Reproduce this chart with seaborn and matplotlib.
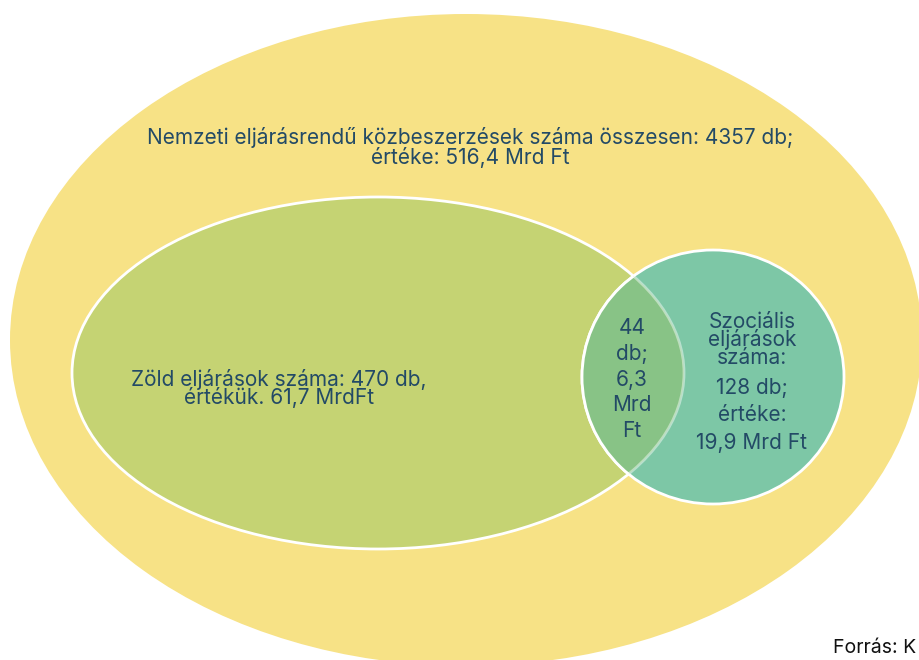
import matplotlib
matplotlib.use("Agg")
import matplotlib.pyplot as plt
from matplotlib.patches import Ellipse
import seaborn as sns

# ---- data ----
set_names = ["Nemzeti", "Zöld", "Szociális"]
counts = [4357, 470, 128]          # db
values = ["516,4", "61,7", "19,9"]  # Mrd Ft
overlap_count = 44
overlap_value = "6,3"

title_lines = [f"Nemzeti eljárásrendű közbeszerzések száma összesen: {counts[0]} db;",
               f"értéke: {values[0]} Mrd Ft"]
green_lines = [f"Zöld eljárások száma: {counts[1]} db,",
               f"értékük. {values[1]} MrdFt"]
teal_lines = ["Szociális", "eljárások", "száma:", f"{counts[2]} db;", "értéke:",
              f"{values[2]} Mrd Ft"]
overlap_lines = [str(overlap_count), "db;", overlap_value, "Mrd", "Ft"]
source = "Forrás: K"

sns.set_theme(style="white")
plt.rcParams['font.family'] = ['Inter', 'DejaVu Sans']

YELLOW = "#F7E286"
GREEN = "#C5D373"
TEAL = "#7DC7A6"
MIX = "#88C386"
TXT = "#234A66"
FS = 15

fig = plt.figure(figsize=(9.2, 6.6), dpi=100)
ax = fig.add_axes([0, 0, 1, 1])
ax.set_xlim(0, 920)
ax.set_ylim(660, 0)
ax.axis("off")

big = Ellipse((466, 340), 912, 652, facecolor=YELLOW, edgecolor="none", zorder=1)
ax.add_patch(big)
green = Ellipse((378, 373), 612, 352, facecolor=GREEN, edgecolor="white", lw=2, zorder=2)
ax.add_patch(green)
teal = Ellipse((713, 377), 262, 254, facecolor=TEAL, edgecolor="white", lw=2, zorder=3)
ax.add_patch(teal)
mix = Ellipse((713, 377), 262, 254, facecolor=MIX, edgecolor="white", lw=2, zorder=4)
ax.add_patch(mix)
mix.set_clip_path(green)
ghost = Ellipse((378, 373), 612, 352, facecolor="none", edgecolor=(1, 1, 1, 0.45), lw=2, zorder=5)
ax.add_patch(ghost)
ghost.set_clip_path(teal)

for s, y in zip(title_lines, [137, 157]):
    ax.text(470, y, s, ha="center", va="center", color=TXT, fontsize=FS, zorder=10)
for s, y in zip(green_lines, [380, 398]):
    ax.text(279, y, s, ha="center", va="center", color=TXT, fontsize=FS, zorder=10)

for i, s in enumerate(overlap_lines):
    ax.text(632, 328 + i * 25.8, s, ha="center", va="center", color=TXT, fontsize=FS, zorder=10)

teal_y = [322, 340, 358, 388, 415, 443]
for s, y in zip(teal_lines, teal_y):
    ax.text(752, y, s, ha="center", va="center", color=TXT, fontsize=FS, zorder=10)

ax.text(833, 648, source, ha="left", va="center", color="#111111", fontsize=14, zorder=10)

fig.savefig("out.png", dpi=100)
